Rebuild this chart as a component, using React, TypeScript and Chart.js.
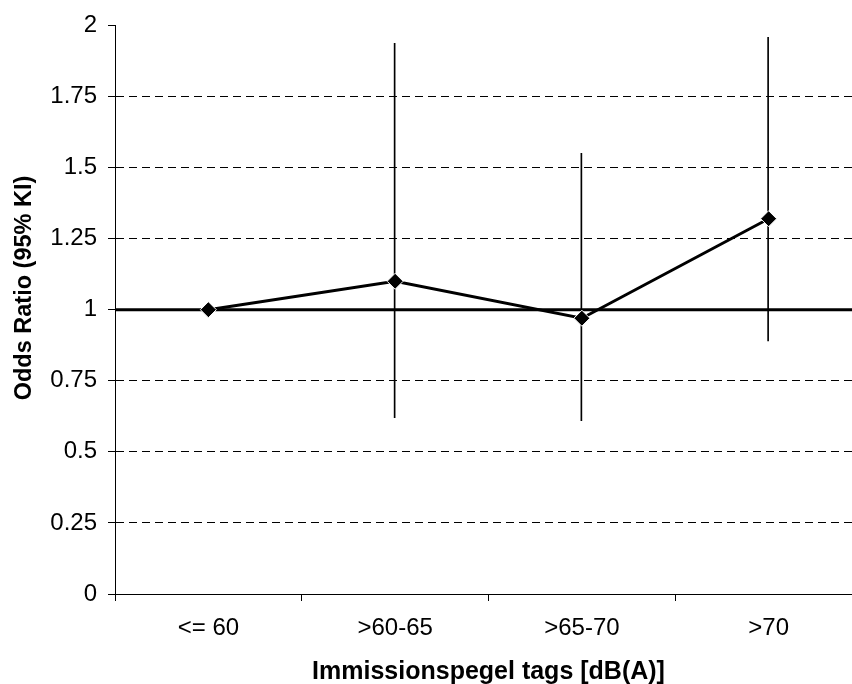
import React, { useEffect, useRef } from "react";
import { Chart, registerables } from "chart.js";

Chart.register(...registerables);

const categories = ["<= 60", ">60-65", ">65-70", ">70"];
const oddsRatios = [1.0, 1.1, 0.97, 1.32];
const ciLower = [null, 0.62, 0.61, 0.89];
const ciUpper = [null, 1.937, 1.55, 1.958];
const yTickLabels = ["0", "0.25", "0.5", "0.75", "1", "1.25", "1.5", "1.75", "2"];
const referenceValue = 1;
const xTitle = "Immissionspegel tags [dB(A)]";
const yTitle = "Odds Ratio (95% KI)";

const FONT = "'Liberation Sans', Arial, sans-serif";

export default function App() {
  const ref = useRef<HTMLCanvasElement | null>(null);

  useEffect(() => {
    if (!ref.current) return;
    const errorData = ciLower.map((lo, i) =>
      lo === null || ciUpper[i] === null ? null : [lo, ciUpper[i]]
    );
    const yTitlePlugin = {
      id: "yTitlePlugin",
      afterDraw(chart: any) {
        const ctx = chart.ctx;
        ctx.save();
        ctx.translate(25, 288);
        ctx.rotate(-Math.PI / 2);
        ctx.font = `bold 23.5px ${FONT}`;
        ctx.fillStyle = "#000";
        ctx.textAlign = "center";
        ctx.textBaseline = "middle";
        ctx.fillText(yTitle, 0, 0);
        ctx.restore();
      },
    };
    const chart = new Chart(ref.current, {
      type: "line",
      data: {
        labels: categories,
        datasets: [
          {
            type: "line",
            label: "OR",
            data: oddsRatios,
            borderColor: "#000",
            borderWidth: 3,
            tension: 0,
            pointStyle: "rectRot",
            pointRadius: 8,
            pointBackgroundColor: "#000",
            pointBorderColor: "#fff",
            pointBorderWidth: 1,
            order: 0,
          },
          {
            type: "line",
            label: "ref",
            xAxisID: "x2",
            data: [
              { x: -0.5, y: referenceValue },
              { x: categories.length - 0.5, y: referenceValue },
            ],
            borderColor: "#000",
            borderWidth: 3,
            pointRadius: 0,
            order: 1,
          } as any,
          {
            type: "bar",
            label: "CI",
            data: errorData as any,
            backgroundColor: "#000",
            borderWidth: 0,
            barThickness: 1,
            order: 2,
          } as any,
        ],
      },
      options: {
        responsive: false,
        animation: false,
        layout: { padding: { left: 0, top: 24, right: 18, bottom: 0 } },
        plugins: {
          legend: { display: false },
          tooltip: { enabled: false },
        },
        scales: {
          x: {
            type: "category",
            offset: true,
            grid: {
              offset: true,
              drawOnChartArea: false,
              drawTicks: true,
              tickLength: 7,
              tickColor: "#000",
              color: "#000",
            },
            border: { display: true, color: "#000", width: 1 },
            ticks: {
              color: "#000",
              padding: 13,
              font: { family: FONT, size: 24 },
            },
            title: {
              display: true,
              text: xTitle,
              color: "#000",
              padding: { top: 0, bottom: 0 },
              font: { family: FONT, size: 25, weight: "bold", lineHeight: 0.95 },
            },
            afterFit(scale: any) {
              scale.height = 90;
            },
          },
          x2: {
            type: "linear",
            display: false,
            min: -0.5,
            max: categories.length - 0.5,
          },
          y: {
            type: "linear",
            min: 0,
            max: 2,
            ticks: {
              stepSize: 0.25,
              color: "#000",
              padding: 11,
              font: { family: FONT, size: 24 },
              callback: (v: any) => yTickLabels[Math.round(Number(v) / 0.25)],
            },
            grid: {
              color: (c: any) =>
                c.tick && (c.tick.value >= 2 || c.tick.value <= 0) ? "rgba(0,0,0,0)" : "#000",
              lineWidth: 1,
              tickLength: 7,
              tickColor: "#000",
              tickBorderDash: [],
            },
            border: { display: true, color: "#000", width: 1, dash: [8, 5] },
            afterFit(scale: any) {
              scale.width = 115;
            },
          },
        },
      },
      plugins: [yTitlePlugin],
    });
    return () => chart.destroy();
  }, []);

  return (
    <div
      style={{
        position: "fixed",
        left: 0,
        top: 0,
        width: 852,
        height: 684,
        overflow: "hidden",
        background: "#fff",
      }}
    >
      <canvas ref={ref} width={880} height={684} style={{ display: "block" }} />
    </div>
  );
}
